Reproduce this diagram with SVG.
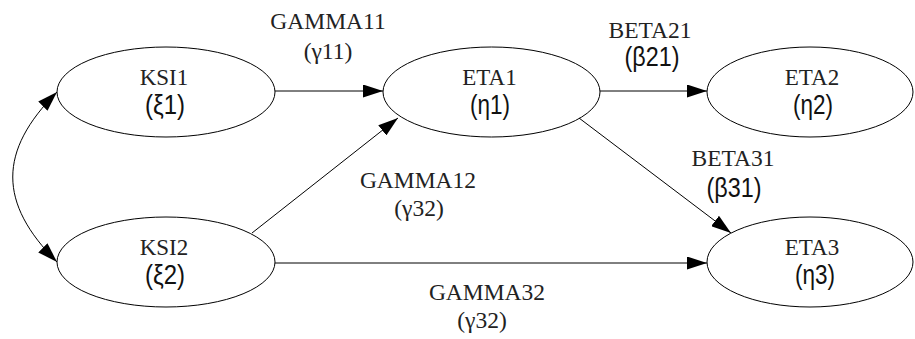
<svg xmlns="http://www.w3.org/2000/svg" width="915" height="339" viewBox="0 0 915 339">
  <defs>
    <marker id="arrow" markerUnits="userSpaceOnUse" markerWidth="20" markerHeight="13" refX="20" refY="6.5" orient="auto-start-reverse" viewBox="0 0 20 13">
      <path d="M0,0 L20,6.5 L0,13 Z" fill="#000"/>
    </marker>
    <style>
      .node ellipse { fill: none; stroke: #000; stroke-width: 1; }
      .name { font-family: "Liberation Serif", "Times New Roman", serif; font-size: 23px; fill: #222; text-anchor: middle; }
      .sym { font-family: "Liberation Sans", Arial, sans-serif; font-size: 28px; fill: #111; text-anchor: middle; }
      .lab { font-family: "Liberation Serif", "Times New Roman", serif; font-size: 23.5px; fill: #222; text-anchor: middle; }
      .edge { fill: none; stroke: #000; stroke-width: 1; marker-end: url(#arrow); }
    </style>
  </defs>
  <rect width="915" height="339" fill="#fff"/>

  <!-- connectors -->
  <g id="connectors">
    <path class="edge" d="M57,92 C-2,151 -2,203 57,262" marker-start="url(#arrow)"/>
    <path class="edge" d="M275,91 L383,91"/>
    <path class="edge" d="M252,233 L398,118"/>
    <path class="edge" d="M600,91 L707,91"/>
    <path class="edge" d="M579,118 L731,233"/>
    <path class="edge" d="M275,263 L707,263"/>
    <text class="lab" x="328" y="29">GAMMA11</text>
    <text class="lab" x="328" y="59">(γ11)</text>
    <text class="lab" x="650" y="38">BETA21</text>
    <text class="sym" x="652" y="66" textLength="55" lengthAdjust="spacingAndGlyphs">(β21)</text>
    <text class="lab" x="733" y="166">BETA31</text>
    <text class="sym" x="734" y="197" textLength="55" lengthAdjust="spacingAndGlyphs">(β31)</text>
    <text class="lab" x="418" y="188">GAMMA12</text>
    <text class="lab" x="419" y="216">(γ32)</text>
    <text class="lab" x="487" y="300">GAMMA32</text>
    <text class="lab" x="482" y="328">(γ32)</text>
  </g>

  <!-- nodes -->
  <g id="KSI1" class="node">
    <ellipse cx="166" cy="92" rx="109" ry="45"/>
    <text class="name" x="164" y="85">KSI1</text>
    <text class="sym" x="165" y="114" textLength="40" lengthAdjust="spacingAndGlyphs">(ξ1)</text>
  </g>
  <g id="KSI2" class="node">
    <ellipse cx="166" cy="262" rx="109" ry="45"/>
    <text class="name" x="164" y="255">KSI2</text>
    <text class="sym" x="165" y="284" textLength="40" lengthAdjust="spacingAndGlyphs">(ξ2)</text>
  </g>
  <g id="ETA1" class="node">
    <ellipse cx="491.5" cy="92" rx="108.5" ry="45"/>
    <text class="name" x="489.5" y="85">ETA1</text>
    <text class="sym" x="490" y="114" textLength="40" lengthAdjust="spacingAndGlyphs">(η1)</text>
  </g>
  <g id="ETA2" class="node">
    <ellipse cx="810" cy="92" rx="103" ry="45"/>
    <text class="name" x="812" y="85">ETA2</text>
    <text class="sym" x="813" y="114" textLength="40" lengthAdjust="spacingAndGlyphs">(η2)</text>
  </g>
  <g id="ETA3" class="node">
    <ellipse cx="810" cy="262" rx="103" ry="45"/>
    <text class="name" x="812" y="255">ETA3</text>
    <text class="sym" x="815" y="284" textLength="40" lengthAdjust="spacingAndGlyphs">(η3)</text>
  </g>
</svg>
